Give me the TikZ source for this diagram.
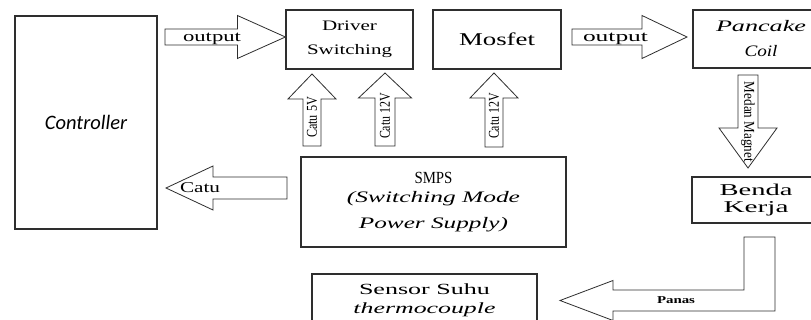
\documentclass[tikz,border=0pt]{standalone}
\usepackage{fontspec}
\usepackage{graphicx}
\usetikzlibrary{calc}
\setmainfont{Liberation Serif}
\newfontfamily\calib{Carlito}
\newcommand\sxw[2]{\resizebox{#1}{\height}{#2}}
\definecolor{linecol}{gray}{0.18}
\newcommand\blockarrow[5]{%
  \coordinate (ba-h) at ($(#2)!#5!(#1)$);
  \draw[barrow] ($(#1)!#3!90:(#2)$) -- ($(ba-h)!#3!90:(#2)$) -- ($(ba-h)!#4!90:(#2)$)
    -- (#2) -- ($(ba-h)!#4!-90:(#2)$) -- ($(ba-h)!#3!-90:(#2)$) -- ($(#1)!#3!-90:(#2)$) -- cycle;
}
\tikzset{
  box/.style={draw=linecol, line width=1.2pt, fill=white, inner sep=0pt, align=center, rectangle},
  barrow/.style={draw=linecol, line width=0.8pt, fill=white, line join=miter},
  lbl/.style={inner sep=0pt, text=black},
}
\begin{document}
\begin{tikzpicture}[x=1pt,y=-1pt]
\useasboundingbox (0,0) rectangle (811,320);
\clip (0,0) rectangle (811,320);
\fill[white] (0,0) rectangle (811,320);

% boxes
\node[box, minimum width=142pt, minimum height=213pt,
      font={\calib\itshape\fontsize{20.5}{24}\selectfont}] (ctrl) at (86,122.5) {Controller};
\node[box, minimum width=127pt, minimum height=59pt,
      font={\fontsize{14.5}{24}\selectfont}] (drv) at (349.5,39.5)
      {\sxw{55pt}{Driver}\\\sxw{85pt}{Switching}};
\node[box, minimum width=128pt, minimum height=59pt,
      font={\fontsize{18}{22}\selectfont}] (mos) at (497,39.5) {\sxw{76pt}{Mosfet}};
\node[box, minimum width=136pt, minimum height=58pt,
      font={\itshape\fontsize{16}{25}\selectfont}] (coil) at (761,39)
      {\sxw{90pt}{Pancake}\\\sxw{33pt}{Coil}};
\node[box, minimum width=128pt, minimum height=46pt,
      font={\fontsize{16.5}{17}\selectfont}] (benda) at (756,200)
      {\sxw{73pt}{Benda}\\\sxw{65pt}{Kerja}};
\node[box, minimum width=265pt, minimum height=90pt,
      font={\fontsize{16}{19}\selectfont}] (smps) at (433.5,202)
      {\sxw{38pt}{\fontsize{17}{19}\selectfont SMPS}\\\sxw{173pt}{\itshape (Switching Mode}\\[7pt]\sxw{149pt}{\itshape Power Supply)}};
\node[box, minimum width=225pt, minimum height=52pt,
      font={\fontsize{15.5}{19}\selectfont}] (sensor) at (424.5,300)
      {\sxw{131pt}{Sensor Suhu}\\\sxw{142pt}{\itshape thermocouple}};

% arrow end points
\coordinate (o1a) at (165,37);
\coordinate (o1b) at (drv.west |- o1a);
\coordinate (o2a) at (572,37);
\coordinate (o2b) at (687,37);
\coordinate (c5a) at (312,146);
\coordinate (c5b) at (312,74);
\coordinate (c12a) at (385,146);
\coordinate (c12b) at (385,73);
\coordinate (c12c) at (494,147);
\coordinate (c12d) at (494,73);
\coordinate (mma) at (748,75);
\coordinate (mmb) at (748,168);
\coordinate (cta) at (287,188);
\coordinate (ctb) at (166,188);

\blockarrow{o1a}{o1b}{8pt}{21.5pt}{48pt}
\blockarrow{o2a}{o2b}{8pt}{21.5pt}{45pt}
\blockarrow{c5a}{c5b}{9pt}{24pt}{25pt}
\blockarrow{c12a}{c12b}{10pt}{26.5pt}{25pt}
\blockarrow{c12c}{c12d}{9pt}{24pt}{25pt}
\blockarrow{mma}{mmb}{10pt}{29pt}{40pt}
\blockarrow{cta}{ctb}{11pt}{22pt}{47pt}

% L-shaped heat arrow
\draw[barrow] (744,237) -- (775,237) -- (775,311) -- (613,311) -- (613,320.5)
  -- (560,300.5) -- (613,280.5) -- (613,290) -- (744,290) -- cycle;

% arrow labels
\node[lbl, anchor=base, font={\fontsize{15}{18}\selectfont}] (lo1) at (212,42) {\sxw{58pt}{output}};
\node[lbl, anchor=base, font={\fontsize{15}{18}\selectfont}] (lo2) at (615.5,42) {\sxw{65pt}{output}};
\node[lbl, anchor=base, font={\fontsize{15}{18}\selectfont}] (lcatu) at (200,193) {\sxw{40pt}{Catu}};
\node[lbl, rotate=90, font={\fontsize{15}{18}\selectfont}] (lc5) at (312,117.5) {\sxw{41pt}{Catu 5V}};
\node[lbl, rotate=90, font={\fontsize{15}{18}\selectfont}] (lc12a) at (385,116) {\sxw{46pt}{Catu 12V}};
\node[lbl, rotate=90, font={\fontsize{15}{18}\selectfont}] (lc12b) at (494,116) {\sxw{46pt}{Catu 12V}};
\node[lbl, rotate=-90, font={\fontsize{15}{18}\selectfont}] (lmm) at (748,122) {\sxw{80pt}{Medan Magnet}};
\node[lbl, anchor=base, font={\bfseries\fontsize{10.5}{12}\selectfont}] (lpanas) at (676,304) {\sxw{38pt}{Panas}};
\end{tikzpicture}
\end{document}
